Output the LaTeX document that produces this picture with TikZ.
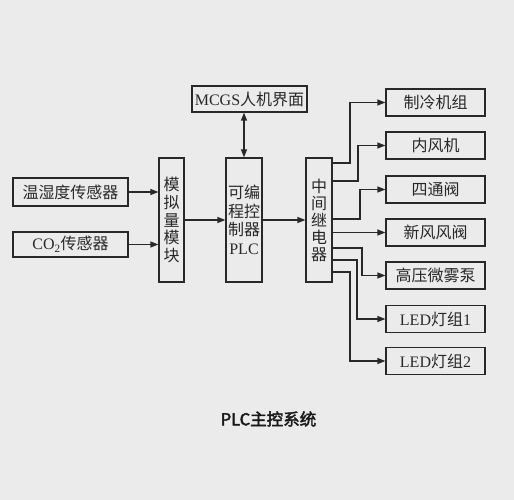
\documentclass[tikz,border=0pt]{standalone}
\usepackage{fontspec}
\setmainfont{Liberation Serif}
\newfontfamily\cjk[AutoFakeBold=2.5]{Noto Sans CJK SC}
\usetikzlibrary{arrows.meta}
\definecolor{bg}{RGB}{235,235,235}
\definecolor{ln}{RGB}{40,40,40}
\begin{document}
\begin{tikzpicture}[x=1pt,y=-1pt,
  box/.style={draw=ln,line width=1.2pt,fill=bg,inner sep=0pt,text=ln,font=\fontsize{16}{18}\selectfont\cjk},
  outbox/.style={box,minimum width=99pt,minimum height=27pt},
  tip/.style={Triangle[length=8pt,width=6pt]},
  conn/.style={draw=ln,line width=1.2pt,-{Triangle[length=8pt,width=6pt]}},
  vtext/.style={align=center,font=\fontsize{16}{17.6}\selectfont\cjk}]
\fill[bg] (0,0) rectangle (514,500);
\useasboundingbox (0,0) rectangle (514,500);
\node[box,minimum width=115pt,minimum height=26pt] (mcgs) at (249.5,99) {{\rmfamily MCGS}人机界面};
\node[box,minimum width=115pt,minimum height=28pt] (th) at (70.5,192) {温湿度传感器};
\node[box,minimum width=115pt,minimum height=25pt] (co2) at (70.5,244.5) {{\rmfamily CO\textsubscript{2}}传感器};
\node[box,minimum width=25pt,minimum height=124pt,vtext] (ana) at (171.5,220) {模\\拟\\量\\模\\块};
\node[box,minimum width=36pt,minimum height=124pt,align=center,font=\fontsize{16}{18.5}\selectfont\cjk] (plc) at (244,220) {可编\\程控\\制器\\{\rmfamily PLC}};
\node[box,minimum width=26pt,minimum height=124pt,align=center,font=\fontsize{16}{17}\selectfont\cjk] (rel) at (319,220) {中\\间\\继\\电\\器};
\node[outbox] (o1) at (435.5,102.5) {制冷机组};
\node[outbox] (o2) at (435.5,145.5) {内风机};
\node[outbox] (o3) at (435.5,189.5) {四通阀};
\node[outbox] (o4) at (435.5,232.5) {新风风阀};
\node[outbox] (o5) at (435.5,275.5) {高压微雾泵};
\node[outbox] (o6) at (435.5,319) {{\rmfamily LED}灯组{\rmfamily 1}};
\node[outbox] (o7) at (435.5,361) {{\rmfamily LED}灯组{\rmfamily 2}};
\node[font=\fontsize{16.5}{19}\selectfont\cjk\bfseries,text=black!90] (cap) at (268.5,419) {PLC主控系统};
% connectors
\draw[conn] (th.east) -- (th.east -| ana.west);
\draw[conn] (co2.east) -- (co2.east -| ana.west);
\draw[conn] (ana.east) -- (plc.west);
\draw[conn] (plc.east) -- (rel.west);
\draw[draw=ln,line width=1.2pt,{Triangle[length=8pt,width=6pt]}-{Triangle[length=8pt,width=6pt]}] (mcgs.south -| plc.north) -- (plc.north);
\draw[conn] (rel.east |- 0,163) -- (350,163) |- (o1.west);
\draw[conn] (rel.east |- 0,181) -- (358,181) |- (o2.west);
\draw[conn] (rel.east |- 0,219) -- (360,219) |- (o3.west);
\draw[conn] (rel.east |- o4.west) -- (o4.west);
\draw[conn] (rel.east |- 0,248) -- (362,248) |- (o5.west);
\draw[conn] (rel.east |- 0,260) -- (357,260) |- (o6.west);
\draw[conn] (rel.east |- 0,272) -- (350,272) |- (o7.west);
\end{tikzpicture}
\end{document}
